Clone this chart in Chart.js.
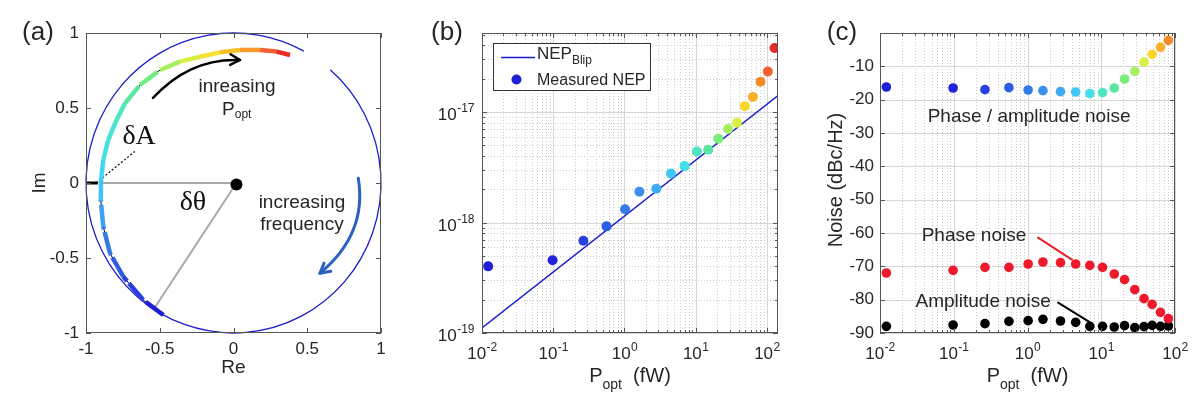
<!DOCTYPE html>
<html><head><meta charset="utf-8">
<script src="https://cdn.jsdelivr.net/npm/chart.js@4.4.1/dist/chart.umd.min.js"></script>
<style>
html,body{margin:0;padding:0;background:#fff}
body{width:1200px;height:395px;overflow:hidden;position:relative}
canvas{position:absolute;top:0}
</style></head><body>
<canvas id="ca" width="400" height="395" style="left:0px"></canvas>
<canvas id="cb" width="400" height="395" style="left:400px"></canvas>
<canvas id="cc" width="400" height="395" style="left:800px"></canvas>
<script>
// ---------------- DATA ----------------
// Panel (a): resonance arc in the complex plane
const arcRe = [-0.476,-0.612,-0.747,-0.837,-0.883,-0.900,-0.898,-0.883,-0.849,-0.803,-0.736,-0.634,-0.498,-0.363,-0.227,-0.092,0.044,0.180,0.293,0.383];
const arcIm = [-0.880,-0.780,-0.624,-0.469,-0.291,-0.113,0.020,0.153,0.287,0.398,0.531,0.653,0.753,0.809,0.842,0.871,0.887,0.887,0.876,0.853];
const centerRe = [0.02];
const centerIm = [-0.01];
const refRe = [-0.90, 0.02, -0.54];     // grey phase reference lines
const refIm = [0.00, 0.00, -0.84];
const stubRe = [-1.00, -0.92];          // black amplitude stub
const stubIm = [0.00, 0.00];
const dotRe = [-0.93, -0.67];           // dotted pointer to deltaA
const dotIm = [0.00, 0.21];
const aTicks = [-1, -0.5, 0, 0.5, 1];
const aTickLabels = ['-1', '-0.5', '0', '0.5', '1'];

// Panel (b): NEP vs optical power
const popt = [0.0122,0.098,0.265,0.56,1.02,1.62,2.8,4.5,7.0,10.4,15.0,20.7,28.5,38,49,63.5,81.3,103,128];
const nepMeasured = [4.01e-19,4.55e-19,6.85e-19,9.23e-19,1.32e-18,1.90e-18,2.02e-18,2.78e-18,3.24e-18,4.40e-18,4.56e-18,5.74e-18,7.02e-18,8.01e-18,1.13e-17,1.37e-17,1.88e-17,2.33e-17,3.79e-17];
const blipP = [0.01, 143];
const blipNEP = [1.11e-19, 1.41e-17];
const bXExp = [-2, -1, 0, 1, 2];
const bYExp = [-19, -18, -17];

// Panel (c): noise vs optical power (first 17 powers)
const poptC = popt.slice(0, 17);
const phaseAmpNoise = [-16.2,-16.5,-17.0,-16.4,-17.1,-17.3,-17.6,-17.7,-18.2,-17.9,-16.5,-13.8,-11.5,-8.7,-6.4,-4.3,-2.2];
const phaseNoise = [-72.0,-71.2,-70.3,-70.3,-69.3,-68.7,-68.9,-69.3,-69.7,-70.3,-72.3,-74.0,-77.0,-79.7,-81.4,-83.8,-85.7];
const ampNoise = [-88.0,-87.6,-87.2,-86.5,-86.3,-85.9,-86.4,-86.8,-88.0,-88.0,-88.2,-87.8,-88.4,-88.1,-87.7,-88.0,-87.9];
const cXExp = [-2, -1, 0, 1, 2];
const cYTicks = [-90,-80,-70,-60,-50,-40,-30,-20,-10];

// ---------------- STYLE ----------------
const jet = ['#1f1fd6','#2222dd','#2a40e0','#2e5ce2','#3479e6','#3a8fee','#3eaaf2','#40c8f4','#44e0e6','#4ce6c0','#5ae8a0','#7aee7c','#a6f060','#d8f044','#f8d62c','#f8b02a','#f78a28','#f06030','#e92b22'];
const arcColors = ['#1f1fd6','#2a3ee0','#2e5ce2','#3479e6','#3ea0f0','#40c4f4','#40d6f2','#44e0e6','#48e2d2','#4ce6c0','#5ae8a0','#74ec84','#a6f060','#d8f044','#f8e030','#f8c02a','#f79a28','#f06030','#e92b22'];
const FONT = '"Liberation Sans", Arial, Helvetica, sans-serif';
const SERIF = '"Liberation Serif", "Times New Roman", serif';
const INK = '#262626';
const AXIS = '#555555';
const GRID_MAJOR = '#d6d6d6';
const GRID_MINOR = '#cdcdcd';

const pts = (xs, ys) => xs.map((x, i) => ({x, y: ys[i]}));

function T(ctx, s, x, y, o = {}) {
  ctx.save();
  ctx.font = (o.size || 17) + 'px ' + (o.font || FONT);
  ctx.fillStyle = o.color || INK;
  ctx.textAlign = o.align || 'center';
  ctx.textBaseline = o.base || 'middle';
  ctx.translate(x, y);
  if (o.rot) ctx.rotate(o.rot);
  ctx.fillText(s, 0, 0);
  ctx.restore();
}
// text runs [text, size, dy] on a common baseline
function runs(ctx, parts, x, y, align = 'center', rot = 0) {
  ctx.save();
  ctx.translate(x, y);
  if (rot) ctx.rotate(rot);
  let w = 0;
  parts.forEach(p => { ctx.font = p[1] + 'px ' + FONT; w += ctx.measureText(p[0]).width; });
  let cx = align === 'center' ? -w / 2 : align === 'right' ? -w : 0;
  ctx.fillStyle = INK; ctx.textAlign = 'left'; ctx.textBaseline = 'alphabetic';
  parts.forEach(p => { ctx.font = p[1] + 'px ' + FONT; ctx.fillText(p[0], cx, p[2] || 0); cx += ctx.measureText(p[0]).width; });
  ctx.restore();
}
function powLabel(ctx, e, x, y, mode) {
  ctx.save();
  ctx.fillStyle = INK; ctx.textBaseline = 'alphabetic'; ctx.textAlign = 'left';
  ctx.font = '17px ' + FONT; const w1 = ctx.measureText('10').width;
  ctx.font = '12px ' + FONT; const es = String(e); const w2 = ctx.measureText(es).width;
  const x0 = mode === 'x' ? x - (w1 + w2) / 2 : x - (w1 + w2);
  ctx.font = '17px ' + FONT; ctx.fillText('10', x0, y);
  ctx.font = '12px ' + FONT; ctx.fillText(es, x0 + w1 + 0.5, y - 8);
  ctx.restore();
}
function logVals(min, max) {
  const out = [];
  for (let e = Math.floor(Math.log10(min)); e <= Math.ceil(Math.log10(max)); e++) {
    for (let m = 1; m <= 9; m++) {
      const v = m * Math.pow(10, e);
      if (v >= min * 0.999 && v <= max * 1.001) out.push({v, major: m === 1});
    }
  }
  return out;
}
function gridLines(chart, axis, vals, color, dash) {
  const {ctx, chartArea: a} = chart; const s = chart.scales[axis];
  ctx.save(); ctx.strokeStyle = color; ctx.lineWidth = 1; ctx.setLineDash(dash || []);
  vals.forEach(v => {
    const p = Math.round(s.getPixelForValue(v)) + 0.5;
    ctx.beginPath();
    if (axis === 'x') { ctx.moveTo(p, a.top); ctx.lineTo(p, a.bottom); }
    else { ctx.moveTo(a.left, p); ctx.lineTo(a.right, p); }
    ctx.stroke();
  });
  ctx.restore();
}
function frame(chart, xt, yt) {
  const {ctx, chartArea: a} = chart; const xs = chart.scales.x, ys = chart.scales.y;
  ctx.save(); ctx.strokeStyle = AXIS; ctx.lineWidth = 1;
  ctx.strokeRect(a.left + 0.5, a.top + 0.5, a.right - a.left - 1, a.bottom - a.top - 1);
  xt.forEach(t => {
    const x = Math.round(xs.getPixelForValue(t.v)) + 0.5; const L = t.major ? 5 : 3;
    ctx.beginPath(); ctx.moveTo(x, a.bottom); ctx.lineTo(x, a.bottom - L);
    ctx.moveTo(x, a.top); ctx.lineTo(x, a.top + L); ctx.stroke();
  });
  yt.forEach(t => {
    const y = Math.round(ys.getPixelForValue(t.v)) + 0.5; const L = t.major ? 5 : 3;
    ctx.beginPath(); ctx.moveTo(a.left, y); ctx.lineTo(a.left + L, y);
    ctx.moveTo(a.right, y); ctx.lineTo(a.right - L, y); ctx.stroke();
  });
  ctx.restore();
}
function arrowCurve(chart, p0, pc, p1, color, w) {
  const xs = chart.scales.x, ys = chart.scales.y, ctx = chart.ctx;
  const P = p => [xs.getPixelForValue(p[0]), ys.getPixelForValue(p[1])];
  const a = P(p0), c = P(pc), b = P(p1);
  ctx.save(); ctx.strokeStyle = color; ctx.lineWidth = w; ctx.lineCap = 'round'; ctx.lineJoin = 'round';
  ctx.beginPath(); ctx.moveTo(a[0], a[1]); ctx.quadraticCurveTo(c[0], c[1], b[0], b[1]); ctx.stroke();
  const ang = Math.atan2(b[1] - c[1], b[0] - c[0]); const L = 11, sp = 0.5;
  ctx.beginPath();
  ctx.moveTo(b[0] - L * Math.cos(ang - sp), b[1] - L * Math.sin(ang - sp));
  ctx.lineTo(b[0], b[1]);
  ctx.lineTo(b[0] - L * Math.cos(ang + sp), b[1] - L * Math.sin(ang + sp));
  ctx.stroke();
  ctx.restore();
}
function segLine(chart, p0, p1, color, w) {
  const xs = chart.scales.x, ys = chart.scales.y, ctx = chart.ctx;
  ctx.save(); ctx.strokeStyle = color; ctx.lineWidth = w; ctx.lineCap = 'round';
  ctx.beginPath(); ctx.moveTo(xs.getPixelForValue(p0[0]), ys.getPixelForValue(p0[1]));
  ctx.lineTo(xs.getPixelForValue(p1[0]), ys.getPixelForValue(p1[1])); ctx.stroke();
  ctx.restore();
}
function baseOptions(padRight, yW, xH, xs, ys) {
  return {
    responsive: false, animation: false, devicePixelRatio: 1, events: [],
    layout: {autoPadding: false, padding: {left: 0, right: padRight, top: 33, bottom: 0}},
    plugins: {legend: {display: false}, tooltip: {enabled: false}},
    scales: {
      x: Object.assign({ticks: {display: false}, grid: {display: false, drawTicks: false}, border: {display: false}, afterFit: s => { s.height = xH; }}, xs),
      y: Object.assign({ticks: {display: false}, grid: {display: false, drawTicks: false}, border: {display: false}, afterFit: s => { s.width = yW; }}, ys)
    }
  };
}

// ---------------- PANEL (a) ----------------
new Chart(document.getElementById('ca'), {
  type: 'scatter',
  data: {datasets: [
    {data: pts(centerRe, centerIm), pointRadius: 6, pointBackgroundColor: '#000', pointBorderWidth: 0, order: 0},
    {data: pts(arcRe, arcIm), showLine: true, pointRadius: 0, borderWidth: 4.5, borderCapStyle: 'butt', borderColor: arcColors[0],
     borderDash: [22, 3],
     segment: {borderColor: c => arcColors[c.p0DataIndex]}, order: 1},
    {data: pts(arcRe, arcIm), showLine: true, pointRadius: 0, borderWidth: 1, borderColor: '#000', order: 2},
    {data: pts(stubRe, stubIm), showLine: true, pointRadius: 0, borderWidth: 3, borderColor: '#000', order: 2},
    {data: pts(dotRe, dotIm), showLine: true, pointRadius: 0, borderWidth: 1.2, borderColor: '#000', borderDash: [2, 2], order: 2},
    {data: pts(refRe, refIm), showLine: true, pointRadius: 0, borderWidth: 2, borderColor: '#a8a8a8', order: 3}
  ]},
  options: baseOptions(19, 86, 62, {type: 'linear', min: -1, max: 1}, {type: 'linear', min: -1, max: 1}),
  plugins: [{
    id: 'decoA',
    beforeDatasetsDraw(chart) {
      const ctx = chart.ctx, xs = chart.scales.x, ys = chart.scales.y;
      const cx = xs.getPixelForValue(0), cy = ys.getPixelForValue(0);
      const rx = xs.getPixelForValue(1) - cx, ry = cy - ys.getPixelForValue(1);
      ctx.save(); ctx.strokeStyle = '#1c1cc8'; ctx.lineWidth = 1.3;
      ctx.beginPath(); ctx.ellipse(cx, cy, rx, ry, 0, -49 * Math.PI / 180, (360 - 61.5) * Math.PI / 180); ctx.stroke();
      ctx.restore();
    },
    afterDatasetsDraw(chart) {
      const ctx = chart.ctx, a = chart.chartArea, xs = chart.scales.x, ys = chart.scales.y;
      const tv = aTicks.map(v => ({v, major: true}));
      frame(chart, tv, tv);
      aTicks.forEach((v, i) => {
        T(ctx, aTickLabels[i], xs.getPixelForValue(v), a.bottom + 16, {size: 17});
        T(ctx, aTickLabels[i], a.left - 7, ys.getPixelForValue(v), {size: 17, align: 'right'});
      });
      T(ctx, 'Re', (a.left + a.right) / 2, 368, {size: 19});
      T(ctx, 'Im', 40, (a.top + a.bottom) / 2, {size: 19, rot: -Math.PI / 2});
      T(ctx, '(a)', 38, 33, {size: 26});
      const X = v => xs.getPixelForValue(v), Y = v => ys.getPixelForValue(v);
      T(ctx, '\u03B4A', X(-0.64), Y(0.307), {size: 28, font: SERIF, color: '#111'});
      T(ctx, '\u03B4\u03B8', X(-0.275), Y(-0.133), {size: 28, font: SERIF, color: '#111'});
      T(ctx, 'inreasing', X(0.024), Y(0.64), {size: 19});
      runs(ctx, [['P', 19], ['opt', 12, 3]], X(0.022), Y(0.498) + 7);
      T(ctx, 'increasing', X(0.464), Y(-0.133), {size: 19});
      T(ctx, 'frequency', X(0.464), Y(-0.28), {size: 19});
      arrowCurve(chart, [-0.546, 0.567], [-0.295, 0.835], [0.044, 0.82], '#000', 2.5);
      arrowCurve(chart, [0.846, 0.031], [0.908, -0.34], [0.586, -0.602], '#2a62c4', 3);
    }
  }]
});

// ---------------- PANEL (b) ----------------
const bXmin = 0.01, bXmax = 143, bYmin = 1e-19, bYmax = 5.19e-17;
new Chart(document.getElementById('cb'), {
  type: 'scatter',
  data: {datasets: [
    {data: pts(popt, nepMeasured), pointRadius: 5, pointBackgroundColor: jet, pointBorderWidth: 0, order: 0},
    {data: pts(blipP, blipNEP), showLine: true, pointRadius: 0, borderWidth: 1.4, borderColor: '#1c1cd0', order: 1}
  ]},
  options: baseOptions(22, 82, 62, {type: 'logarithmic', min: bXmin, max: bXmax}, {type: 'logarithmic', min: bYmin, max: bYmax}),
  plugins: [{
    id: 'decoB',
    beforeDatasetsDraw(chart) {
      const xv = logVals(bXmin, bXmax), yv = logVals(bYmin, bYmax);
      gridLines(chart, 'x', xv.filter(t => !t.major).map(t => t.v), GRID_MINOR, [1, 2]);
      gridLines(chart, 'y', yv.filter(t => !t.major).map(t => t.v), GRID_MINOR, [1, 2]);
      gridLines(chart, 'x', xv.filter(t => t.major).map(t => t.v), GRID_MAJOR);
      gridLines(chart, 'y', yv.filter(t => t.major).map(t => t.v), GRID_MAJOR);
    },
    afterDatasetsDraw(chart) {
      const ctx = chart.ctx, a = chart.chartArea, xs = chart.scales.x, ys = chart.scales.y;
      frame(chart, logVals(bXmin, bXmax), logVals(bYmin, bYmax));
      bXExp.forEach(e => powLabel(ctx, e, xs.getPixelForValue(Math.pow(10, e)), a.bottom + 26, 'x'));
      bYExp.forEach(e => powLabel(ctx, e, a.left - 8, ys.getPixelForValue(Math.pow(10, e)) + 8, 'y'));
      runs(ctx, [['P', 20], ['opt', 14, 7], ['  (fW)', 20]], (a.left + a.right) / 2, 382);
      runs(ctx, [['NEP  (W/\u221AHz)', 20]], 432, 176, 'center', -Math.PI / 2);
      T(ctx, '(b)', 47, 33, {size: 26});
      // legend
      ctx.save();
      ctx.fillStyle = '#fff'; ctx.fillRect(93, 43, 157, 47);
      ctx.strokeStyle = '#333'; ctx.lineWidth = 1; ctx.strokeRect(93.5, 43.5, 157, 47);
      ctx.strokeStyle = '#1c1cd0'; ctx.lineWidth = 1.4;
      ctx.beginPath(); ctx.moveTo(101, 57.5); ctx.lineTo(135, 57.5); ctx.stroke();
      ctx.fillStyle = jet[0]; ctx.beginPath(); ctx.arc(116.5, 79.5, 5, 0, Math.PI * 2); ctx.fill();
      ctx.restore();
      runs(ctx, [['NEP', 17], ['Blip', 12, 5]], 137, 59, 'left');
      runs(ctx, [['Measured NEP', 16]], 137, 85, 'left');
    }
  }]
});

// ---------------- PANEL (c) ----------------
const cXmin = 0.01, cXmax = 100, cYmin = -90, cYmax = 0;
new Chart(document.getElementById('cc'), {
  type: 'scatter',
  data: {datasets: [
    {data: pts(poptC, phaseAmpNoise), pointRadius: 4.8, pointBackgroundColor: jet.slice(0, 17), pointBorderWidth: 0},
    {data: pts(poptC, phaseNoise), pointRadius: 4.8, pointBackgroundColor: '#ee1a2c', pointBorderWidth: 0},
    {data: pts(poptC, ampNoise), pointRadius: 4.8, pointBackgroundColor: '#000', pointBorderWidth: 0}
  ]},
  options: baseOptions(25, 80, 62, {type: 'logarithmic', min: cXmin, max: cXmax}, {type: 'linear', min: cYmin, max: cYmax}),
  plugins: [{
    id: 'decoC',
    beforeDatasetsDraw(chart) {
      const xv = logVals(cXmin, cXmax);
      gridLines(chart, 'x', xv.filter(t => !t.major).map(t => t.v), GRID_MINOR, [1, 2]);
      gridLines(chart, 'x', xv.filter(t => t.major).map(t => t.v), GRID_MAJOR);
      gridLines(chart, 'y', cYTicks, GRID_MAJOR);
    },
    afterDatasetsDraw(chart) {
      const ctx = chart.ctx, a = chart.chartArea, xs = chart.scales.x, ys = chart.scales.y;
      frame(chart, logVals(cXmin, cXmax), cYTicks.concat([0]).map(v => ({v, major: true})));
      cXExp.forEach(e => powLabel(ctx, e, xs.getPixelForValue(Math.pow(10, e)), a.bottom + 26, 'x'));
      cYTicks.forEach(v => T(ctx, String(v), a.left - 6, ys.getPixelForValue(v), {size: 17, align: 'right'}));
      runs(ctx, [['P', 20], ['opt', 14, 7], ['  (fW)', 20]], (a.left + a.right) / 2, 382);
      runs(ctx, [['Noise (dBc/Hz)', 20]], 42, 180, 'center', -Math.PI / 2);
      T(ctx, '(c)', 42, 33, {size: 26});
      const X = v => xs.getPixelForValue(v), Y = v => ys.getPixelForValue(v);
      T(ctx, 'Phase / amplitude noise', X(1.05), Y(-25.1), {size: 19});
      T(ctx, 'Phase noise', X(0.188), Y(-60.8), {size: 19});
      T(ctx, 'Amplitude noise', X(0.25), Y(-80.6), {size: 19});
      segLine(chart, [1.39, -61.4], [4.0, -68.0], '#e8202a', 2);
      segLine(chart, [2.6, -80.9], [6.8, -86.6], '#000', 2);
    }
  }]
});
</script>
</body></html>
